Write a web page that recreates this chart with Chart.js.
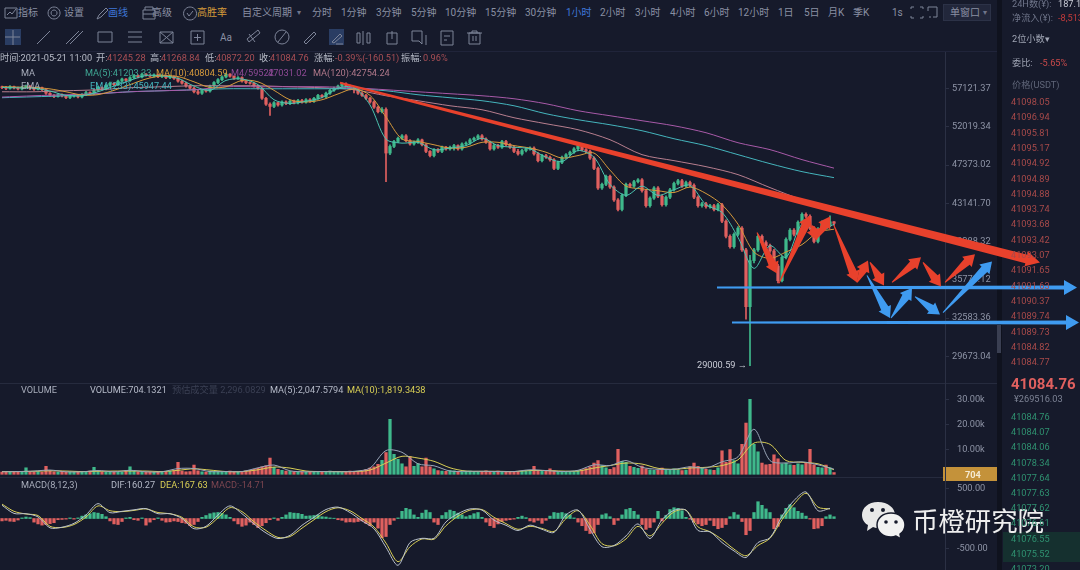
<!DOCTYPE html>
<html>
<head>
<meta charset="utf-8">
<script src="https://cdn.jsdelivr.net/npm/chart.js@4"></script>
<style>
html, body { margin: 0; width: 1080px; height: 570px; overflow: hidden; background: #161a2b; }
#page { position: absolute; left: 0; top: 0; width: 1080px; height: 570px; background: #161a2b; filter: blur(0.55px);
  font-family: Roboto, "Noto Sans CJK SC", sans-serif; }
.t { position: absolute; white-space: nowrap; line-height: 14px; font-size: 9.2px; color: #8a90a3; }
canvas { position: absolute; left: 0; }
.box { position: absolute; }
</style>
</head>
<body>
<div id="page">
  <div class="box" style="left:0;top:51px;width:997px;height:1px;background:#20243a"></div>
  <div class="box" style="left:0;top:383px;width:997px;height:1px;background:#262b3e"></div>
  <div class="box" style="left:0;top:477px;width:997px;height:1px;background:#262b3e"></div>
  <div class="box" style="left:997px;top:0;width:5px;height:570px;background:#0f121e"></div>
  <div class="box" style="left:997px;top:325px;width:4px;height:28px;background:#3a3f52"></div>
  <div class="box" style="left:1003px;top:532px;width:77px;height:30px;background:#15302f"></div>
  <div class="box" style="left:943px;top:467px;width:54px;height:14px;background:#c4923a"></div>
  <div class="box" style="left:5px;top:29px;width:16px;height:16px;background:#2a3d63"></div>
  <div class="box" style="left:329px;top:29px;width:15px;height:16px;background:#2a3d63"></div>
  <div class="box" style="left:943px;top:4px;width:48px;height:17px;background:#22273b;border:1px solid #2c3247;box-sizing:border-box"></div>
  <svg id="icons" class="box" style="left:0;top:0" width="1080" height="52" fill="none" stroke="#7d8498" stroke-width="1"></svg>
  <canvas id="priceChart" width="1080" height="331" style="top:52px"></canvas>
  <canvas id="volumeChart" width="1080" height="94" style="top:383px"></canvas>
  <canvas id="macdChart" width="1080" height="93" style="top:477px"></canvas>
  <svg class="box" style="left:860px;top:500px" width="48" height="40">
    <path d="M18 2C8 2 2 8 2 15c0 4 2 8 6 10l-1 6 6-4c2 1 4 1 6 1 10 0 16-6 16-13S28 2 18 2z" fill="#e8e8e8"/>
    <path d="M31 13c-8 0-14 5-14 12s6 12 14 12c2 0 3 0 5-1l5 3-1-5c3-2 5-5 5-9 0-7-6-12-14-12z" fill="#f2f2f2" stroke="#161a2b" stroke-width="1.5"/>
    <circle cx="12" cy="10" r="2" fill="#161a2b"/><circle cx="23" cy="10" r="2" fill="#161a2b"/>
    <circle cx="26" cy="22" r="1.8" fill="#161a2b"/><circle cx="36" cy="22" r="1.8" fill="#161a2b"/>
  </svg>
  <div class="t" style="left:912px;top:508px;font-size:26.4px;line-height:28px;color:#eeeeee">币橙研究院</div>
</div>
<script>
// toolbar and side panel texts
const periodTabs = [[312,'分时'],[341,'1分钟'],[376,'3分钟'],[411,'5分钟'],[445,'10分钟'],[485,'15分钟'],[525,'30分钟'],[600,'2小时'],[635,'3小时'],[670,'4小时'],[704,'6小时'],[738,'12小时'],[778,'1日'],[804,'5日'],[828,'月K'],[853,'季K'],[892,'1s']];
const askPrices = ['41098.05','41096.94','41095.81','41095.17','41094.92','41094.89','41094.88','41093.74','41093.68','41093.42','41093.07','41091.65','41091.63','41090.37','41089.74','41089.73','41084.82','41084.77'];
const bidPrices = ['41084.76','41084.07','41084.06','41078.34','41077.64','41077.63','41077.62','41076.61','41076.55','41075.52','41073.20'];

// candles, one per hour step
const candleOpen = [57400,57300,57180,57420,57250,57100,57350,57500,57200,57050,57280,57000,56500,56200,56050,56300,56150,55900,56100,56250,56000,56300,56600,56450,56900,57300,57100,57600,57900,57700,58200,58500,58300,58700,59000,58800,59200,59050,58900,59100,58850,59000,58700,58900,58600,58200,57900,57500,57200,56700,56500,56900,56800,57500,58000,58400,58800,59200,58900,58600,58700,58200,58000,57900,57500,57200,55800,55000,54700,55200,54900,55300,55100,55400,55200,55500,55300,55600,55400,55800,56200,56000,56500,56900,57200,57500,57800,57500,57100,57000,56500,56200,55800,55300,54600,54000,54300,48800,49600,50200,50600,50900,50300,49900,50100,50400,49800,49000,48500,49200,49000,49500,49300,49500,49700,49300,49900,50000,50400,50600,50900,50500,50100,49300,49700,49500,50200,49800,49500,49000,48700,49100,49300,49400,48700,47900,48500,48300,48000,47000,47700,48300,48600,48900,49300,49700,49200,49000,48200,47000,44800,45200,46100,44900,43500,42500,44000,45200,45000,45500,45700,44500,42900,43700,44800,43900,43000,43800,44600,45300,45600,45000,45400,45100,43800,42900,43100,42800,42900,42500,43000,41300,39800,38800,40000,40600,38500,33500,37500,38500,39800,39200,38900,38400,37000,35700,37800,39500,40400,40000,41200,42000,41800,40600,39300,40500,41200,40900,41245.28];
const candleClose = [57300,57180,57420,57250,57100,57350,57500,57200,57050,57280,57000,56500,56200,56050,56300,56150,55900,56100,56250,56000,56300,56600,56450,56900,57300,57100,57600,57900,57700,58200,58500,58300,58700,59000,58800,59200,59050,58900,59100,58850,59000,58700,58900,58600,58200,57900,57500,57200,56700,56500,56900,56800,57500,58000,58400,58800,59200,58900,58600,58700,58200,58000,57900,57500,57200,55800,55000,54700,55200,54900,55300,55100,55400,55200,55500,55300,55600,55400,55800,56200,56000,56500,56900,57200,57500,57800,57500,57100,57000,56500,56200,55800,55300,54600,54000,54300,48800,49600,50200,50600,50900,50300,49900,50100,50400,49800,49000,48500,49200,49000,49500,49300,49500,49700,49300,49900,50000,50400,50600,50900,50500,50100,49300,49700,49500,50200,49800,49500,49000,48700,49100,49300,49400,48700,47900,48500,48300,48000,47000,47700,48300,48600,48900,49300,49700,49200,49000,48200,47000,44800,45200,46100,44900,43500,42500,44000,45200,45000,45500,45700,44500,42900,43700,44800,43900,43000,43800,44600,45300,45600,45000,45400,45100,43800,42900,43100,42800,42900,42500,43000,41300,39800,38800,40000,40600,38500,33500,37500,38500,39800,39200,38900,38400,37000,35700,37800,39500,40400,40000,41200,42000,41800,40600,39300,40500,41200,40900,41245.28,41084.76];
const candleHigh = [57500,57450,57550,57500,57350,57450,57650,57550,57300,57400,
57350,57100,56600,56300,56450,56400,56200,56250,56400,56350,
56450,56750,56700,57050,57450,57400,57750,58050,57950,58350,
58650,58550,58850,59150,59100,59350,59300,59150,59250,59200,
59150,59100,59050,58950,58700,58350,58050,57650,57350,56900,
57050,57000,57650,58150,58550,58950,59350,59300,58950,58850,
58800,58300,58100,58000,57600,57300,55950,55200,55350,55300,
55450,55450,55550,55550,55650,55650,55750,55750,55950,56350,
56300,56650,57050,57350,57650,57950,57950,57650,57250,57100,
56650,56350,55950,55450,54750,54550,54500,49800,50350,50750,
51050,51050,50450,50250,50550,50500,49950,49100,49350,49350,
49650,49600,49650,49850,49800,50050,50150,50550,50750,51050,
51050,50650,50250,49850,49850,50350,50350,49950,49650,49250,
49250,49450,49550,49550,48850,48650,48650,48450,48150,47850,
48450,48750,49050,49450,49850,49850,49350,49150,48350,47150,
45350,46250,46250,45050,43650,44150,45350,45350,45650,45850,
45850,44650,43850,44950,44950,44050,43950,44750,45450,45750,
45750,45550,45550,45250,43950,43250,43250,43050,43050,43150,
43150,41450,39950,40150,40750,40750,38650,38000,38650,39950,
39950,39350,39050,38550,37150,37950,39650,40550,40550,41350,
42150,42150,41950,40750,40650,41350,41350,41850,41268.84];
const candleLow = [57150,57000,57050,57100,56950,56950,57200,57000,56900,56950,
56850,56350,56050,55900,55950,56000,55750,55750,55950,55850,
55850,56150,56300,56300,56750,56950,56950,57450,57550,57550,
58050,58150,58150,58550,58650,58650,58900,58750,58750,58700,
58700,58550,58550,58450,58050,57750,57350,57050,56550,56350,
56350,56650,56650,57350,57850,58250,58650,58750,58450,58450,
58050,57850,57750,57350,57050,55650,54850,53500,54550,54750,
54750,54950,54950,55050,55050,55150,55150,55250,55250,55650,
55850,55850,56350,56750,57050,57350,57350,56950,56550,56350,
56050,55650,55150,54450,53850,53850,45500,48600,49450,50050,
50450,50150,49750,49750,49950,49650,48850,48350,48350,48850,
48850,49150,49150,49150,49150,49150,49750,49850,50250,50450,
50350,49950,49150,49150,49350,49350,49650,49350,48850,48550,
48550,48950,49150,48550,47750,47750,48150,47850,46850,46850,
47550,48150,48450,48750,49050,49050,48850,48050,46850,44650,
44650,45050,44750,43350,42350,42350,43850,44850,44850,45350,
44350,42750,42750,43550,43750,42850,42850,43650,44450,45150,
44850,44850,44950,43650,42750,42750,42650,42650,42350,42350,
41150,39650,38650,38650,39850,38350,32500,29000.59,37300,38350,
39050,38750,38250,36850,35500,35600,37650,39350,39850,39850,
41050,41650,40450,39150,39150,40350,40750,40750,40872.20];

// moving averages, one reading every maStep candles
const maStep = 4;
const ma5Line = [57300,57250,57200,56800,56200,56150,56700,57500,58300,59000,58950,58600,57500,56900,58300,58500,57700,55600,55100,55400,55900,57200,57300,54900,50500,50000,50100,49200,49400,49700,50600,49700,49500,49300,48300,47800,49100,48300,45200,44000,45000,44000,44600,45100,43000,42200,39700,36800,38900,37800,41000,40200,41000];
const ma10Line = [57400,57350,57300,57100,56700,56250,56300,56900,57700,58500,58950,58850,58100,57300,57400,58300,58100,56900,55600,55300,55600,56400,57100,56200,53300,50500,50200,49800,49400,49500,50100,50100,49700,49400,48900,48200,48500,48800,46800,45000,44700,44500,44300,44900,44200,43000,41000,38300,37700,38300,39000,40200,40500];
// slow lines, one reading every slowStep candles
const slowStep = 8;
const ma55Line = [55970,56150,56290,56430,56700,56840,56980,57400,57400,57400,57400,57260,56980,56700,56430,56150,55740,55060,54130,53470,52820,52170,51290,50050,49210,48020,47031];
const ema233Line = [55880,56010,56150,56430,56700,56840,56980,57120,57120,57120,57120,57120,56840,56290,55880,55470,54790,53730,52950,52300,51540,50540,49690,48610,47550,46630,45947];
const ma120Line = [56700,56700,56840,56980,57260,57400,57540,57540,57540,57400,57260,56980,56150,55470,54790,54260,53210,52430,51670,50420,48610,47900,47200,46290,44840,43550,42754];
const priceTicks = [57121.37,52019.34,47373.02,43141.70,39288.32,35779.12,32583.36,29673.04];

// hand drawn annotations: [candle, price, candle, price]
const trendArrow = [84.5,57960,259.5,37330];
const redArrows = [[188.75,40170,193.75,36340],[194.25,35470,202,41880],[202.5,40870,203.75,39400],[203.75,39600,207,41780],[208,40870,213.75,35550],[213.75,35550,216.5,37520],[217,37340,220.5,35290],[222.5,35550,229.75,37800],[230.25,37340,234.75,35200],[235.75,35550,243.25,38080]];
const blueArrows = [[216.25,36170,222,32590],[222.25,32590,227.5,35060],[228.25,34340,234.5,32860],[235.25,33020,247.5,37430]];
const supportArrows = [[178.75,35120,268.75,35120],[182.5,32220,269.25,32220]];
const lowestPoint = [187,29000.59];

// volume
const volumeBars = [900,1100,800,1000,1200,900,2600,1000,800,1100,
900,3200,1400,1000,900,1200,800,1000,900,1100,
800,900,1300,2800,1100,1000,900,1200,1000,800,
900,1400,3000,1200,1000,1100,900,1000,800,1100,
900,1000,1200,1500,4800,1300,1000,1100,3700,1400,
1000,900,1300,1200,1100,1000,1200,1300,1000,900,
1100,1400,1600,2000,2400,3000,3400,6500,2800,2000,
1600,1300,1200,1100,1000,1000,900,1100,1000,1100,
1000,1200,1300,1100,900,1000,1100,1300,1000,1200,
1400,1900,2500,3000,4000,5600,8700,22000,8000,6000,
4200,3000,7000,3200,4300,3000,6500,3000,2200,1500,
1300,1200,1500,1400,1100,1000,1200,1300,1100,1000,
1200,1400,1100,1000,1300,1100,1000,1200,1000,1100,
1200,1400,1300,3200,1500,1200,1300,2200,1400,1100,
1000,900,1000,1100,1400,1800,2300,3000,4500,5500,
3500,2600,2000,2700,10000,5200,4800,3200,2800,2400,
3300,2200,1800,1600,1700,2500,2000,1800,2200,1900,
1500,1700,3000,4500,3200,2400,2000,1800,1600,2600,
9400,4800,9900,5500,4200,12000,20500,30000,12000,9000,
4500,3800,4000,7800,6200,4200,4500,3800,3600,4200,
3800,4500,10000,3800,2800,2600,3700,2600,704];
const volumeMa5 = [1000,1100,1300,1700,1000,1000,1500,1000,1600,1000,1000,2300,2300,1100,1100,1100,2600,3700,1400,1000,1100,1000,1200,2500,9500,8800,4200,3400,1300,1200,1200,1100,1100,1800,1500,1100,1600,3800,3500,5500,2800,2000,2000,3000,2500,5000,7000,18000,5500,4500,5000,3800,2047];
const volumeMa10 = [1100,1100,1200,1400,1300,1100,1200,1300,1300,1300,1100,1600,2200,1700,1100,1100,1800,2900,2500,1300,1100,1100,1100,1700,4500,7200,6500,5200,2600,1300,1200,1200,1100,1500,1500,1300,1300,2500,3500,4500,4100,2400,2000,2500,2800,3500,5800,12500,12000,5500,4800,4200,1819];
const volumeTicks = [10000,20000,30000];

// macd
const macdBars = [-40,-30,-45,-50,-25,10,25,15,-60,-90,
-110,-100,-85,-70,-20,-15,-10,10,-10,10,
40,60,80,100,90,70,30,-40,-90,-100,
-50,10,20,-20,-30,10,-110,-60,-20,10,
-30,-60,-55,-40,-50,-70,-80,-120,-100,-50,
20,50,80,95,100,85,60,20,-40,-90,
-130,-110,-60,-100,-150,-120,-70,-20,10,-30,
20,60,100,90,85,70,40,45,50,60,
30,25,10,5,-20,-30,-60,-55,-60,-50,
-40,-80,-120,-60,-160,-320,-300,-100,-30,10,
120,170,150,60,20,90,140,100,-60,-100,
50,100,140,120,90,60,30,50,80,100,
20,-60,-120,-150,-90,-50,-30,-20,-10,20,
40,15,-40,-60,-30,-80,-30,40,100,90,
100,80,60,10,-60,-120,-200,-250,-240,-100,
60,80,30,-100,-30,60,150,170,120,60,
-100,-180,-150,-60,120,-40,50,150,180,170,
130,20,-10,-60,-90,-120,-100,-30,-120,-170,
-150,-100,30,100,60,-50,-270,-200,100,280,
220,160,100,-170,-130,60,170,230,180,120,
90,40,-10,-170,-160,-120,30,60,30];
const macdStep = 3;
const difLine = [221,85,80,27,-156,-145,-80,60,248,98,120,145,166,80,80,0,-170,-130,60,210,80,-90,-240,-334,-280,-113,20,150,190,100,-40,-170,-480,-780,-400,-330,-330,-56,80,160,140,-27,-113,-200,-110,-180,-231,60,140,-180,-470,-450,-290,-90,-334,-20,137,137,-200,-222,-400,-540,-650,-400,-320,40,300,443,130,170];
const deaLine = [240,120,75,50,-130,-150,-100,25,210,130,115,135,160,100,80,20,-140,-145,10,180,115,-55,-200,-315,-300,-160,-20,115,180,130,0,-140,-410,-720,-470,-340,-345,-120,40,140,150,20,-85,-180,-130,-165,-215,0,130,-110,-420,-455,-340,-130,-290,-80,110,140,-140,-220,-350,-510,-620,-450,-330,-20,240,420,190,160];
const macdTicks = [500,-500];

const RED = '#e0605f';
const GREEN = '#3fb98b';
const AXIS = '#2b3044';
const TICK_TEXT = '#8e94a6';

Chart.defaults.font.family = 'Roboto, "Noto Sans CJK SC", sans-serif';
Chart.defaults.font.size = 9.2;
Chart.defaults.color = TICK_TEXT;

const candleColors = candleClose.map((c, i) => (c >= candleOpen[i] ? GREEN : RED));

function sampled(values, step) {
    return values.map((v, k) => ({ x: k * step, y: v }));
}

function lineSet(values, step, color, width) {
    return { type: 'line', data: sampled(values, step), borderColor: color, borderWidth: width || 1, pointRadius: 0, tension: 0.3, order: 1 };
}

function barSet(values, colors, thickness, order) {
    return {
        type: 'bar', data: values.map((v, i) => ({ x: i, y: v })), backgroundColor: colors,
        barThickness: thickness, grouped: false, order: order
    };
}

// y axis sits at x=945, the rest of the canvas stays free for the drawn arrows
function chartOptions(yAxis) {
    return {
        responsive: false,
        animation: false,
        layout: { padding: { left: 0, right: 79, top: 0, bottom: 0 }, autoPadding: false },
        plugins: { legend: { display: false }, tooltip: { enabled: false } },
        scales: {
            x: { type: 'linear', display: false, offset: false, min: -0.5, max: 235.75 },
            y: Object.assign({
                position: 'right',
                bounds: 'data',
                afterFit: scale => { scale.width = 56; scale.paddingTop = 0; scale.paddingBottom = 0; },
                grid: { drawOnChartArea: false, tickLength: 4, tickColor: AXIS },
                border: { color: AXIS }
            }, yAxis)
        }
    };
}

function drawArrow(ctx, x1, y1, x2, y2, tail, neck, head, headLen, color) {
    const len = Math.hypot(x2 - x1, y2 - y1);
    const ux = (x2 - x1) / len, uy = (y2 - y1) / len;
    const px = -uy, py = ux;
    const nx = x2 - ux * headLen, ny = y2 - uy * headLen;
    ctx.fillStyle = color;
    ctx.beginPath();
    ctx.moveTo(x1 + px * tail / 2, y1 + py * tail / 2);
    ctx.lineTo(nx + px * neck / 2, ny + py * neck / 2);
    ctx.lineTo(nx + px * head / 2, ny + py * head / 2);
    ctx.lineTo(x2, y2);
    ctx.lineTo(nx - px * head / 2, ny - py * head / 2);
    ctx.lineTo(nx - px * neck / 2, ny - py * neck / 2);
    ctx.lineTo(x1 - px * tail / 2, y1 - py * tail / 2);
    ctx.closePath();
    ctx.fill();
}

const annotations = {
    id: 'annotations',
    afterDraw(chart) {
        const { ctx, scales: { x, y } } = chart;
        const arrow = (a, tail, neck, head, headLen, color) => drawArrow(ctx,
            x.getPixelForValue(a[0]), y.getPixelForValue(a[1]),
            x.getPixelForValue(a[2]), y.getPixelForValue(a[3]), tail, neck, head, headLen, color);
        ctx.save();
        ctx.fillStyle = '#c9ccd6';
        ctx.textAlign = 'right';
        ctx.textBaseline = 'middle';
        ctx.font = '9.2px Roboto';
        ctx.fillText(lowestPoint[1].toFixed(2) + ' →', x.getPixelForValue(lowestPoint[0]) - 3, y.getPixelForValue(lowestPoint[1]));
        supportArrows.forEach(a => arrow(a, 2, 4, 15, 13, '#3f9bf0'));
        blueArrows.forEach(a => arrow(a, 1, 8, 14, 11, '#3f9bf0'));
        arrow(trendArrow, 2, 9, 15, 14, '#e8412c');
        redArrows.forEach(a => arrow(a, 1, 8, 14, 11, '#e8412c'));
        ctx.restore();
    }
};

new Chart(document.getElementById('priceChart'), {
    data: {
        datasets: [
            lineSet(ma5Line, maStep, '#4cc4b0'),
            lineSet(ma10Line, maStep, '#d69a3c'),
            lineSet(ma55Line, slowStep, '#a85aa8'),
            lineSet(ema233Line, slowStep, '#45b5bd'),
            lineSet(ma120Line, slowStep, '#b87f8f'),
            barSet(candleOpen.map((o, i) => [o, candleClose[i]]), candleColors, 2.6, 2),
            barSet(candleLow.map((l, i) => [l, candleHigh[i]]), candleColors, 1, 3)
        ]
    },
    options: chartOptions({
        type: 'logarithmic',
        min: 27790,
        max: 62500,
        afterBuildTicks: scale => { scale.ticks = priceTicks.map(v => ({ value: v })); },
        ticks: { autoSkip: false, padding: 3, callback: v => v.toFixed(2) }
    }),
    plugins: [annotations]
});

new Chart(document.getElementById('volumeChart'), {
    data: {
        datasets: [
            lineSet(volumeMa5, maStep, '#9aa6b8'),
            lineSet(volumeMa10, maStep, '#d9cf55'),
            barSet(volumeBars, candleColors, 2.6, 2)
        ]
    },
    options: chartOptions({
        type: 'linear',
        min: -1080,
        max: 36520,
        afterBuildTicks: scale => { scale.ticks = volumeTicks.map(v => ({ value: v })); },
        ticks: { autoSkip: false, padding: 8, callback: v => (v / 1000).toFixed(2) + 'k' }
    })
});

new Chart(document.getElementById('macdChart'), {
    data: {
        datasets: [
            lineSet(difLine, macdStep, '#b9c1cc'),
            lineSet(deaLine, macdStep, '#d9cf55'),
            barSet(macdBars, macdBars.map(v => (v >= 0 ? GREEN : RED)), 2.6, 2)
        ]
    },
    options: chartOptions({
        type: 'linear',
        min: -858,
        max: 692,
        afterBuildTicks: scale => { scale.ticks = macdTicks.map(v => ({ value: v })); },
        ticks: { autoSkip: false, padding: 8, callback: v => v.toFixed(2) }
    })
});

// page texts
const page = document.getElementById('page');
function label(x, y, text, color, size, weight) {
    const el = document.createElement('div');
    el.className = 't';
    el.style.left = x + 'px';
    el.style.top = (y - 7) + 'px';
    el.textContent = text;
    if (color) el.style.color = color;
    if (size) el.style.fontSize = size + 'px';
    if (weight) el.style.fontWeight = weight;
    page.appendChild(el);
}

label(18, 13, '指标', '#8a90a3', 10);
label(64, 13, '设置', '#8a90a3', 10);
label(108, 13, '画线', '#3f78d8', 10);
label(152, 13, '高级', '#8a90a3', 10);
label(197, 13, '高胜率', '#d49a3a', 10);
label(242, 13, '自定义周期', '#8a90a3', 10);
label(297, 13, '▾', '#6f758a', 8);
periodTabs.forEach(t => label(t[0], 13, t[1], '#8a90a3', 10));
label(566, 13, '1小时', '#3f78d8', 10);
label(950, 13, '单窗口', '#8a90a3', 10);
label(983, 13, '▾', '#6f758a', 8);
label(220, 38, 'Aa', '#8a90a3', 10);

const DIM_RED = '#a94f55';
label(0, 58, '时间:2021-05-21 11:00', '#b8bcc8');
label(96, 58, '开:', '#b8bcc8'); label(107, 58, '41245.28', DIM_RED);
label(150, 58, '高:', '#b8bcc8'); label(161, 58, '41268.84', DIM_RED);
label(205, 58, '低:', '#b8bcc8'); label(216, 58, '40872.20', DIM_RED);
label(259, 58, '收:', '#b8bcc8'); label(270, 58, '41084.76', DIM_RED);
label(314, 58, '涨幅:', '#b8bcc8'); label(335, 58, '-0.39%(-160.51)', DIM_RED);
label(401, 58, '振幅:', '#b8bcc8'); label(423, 58, '0.96%', DIM_RED);

label(21, 73, 'MA', '#a8adbb');
label(85, 73, 'MA(5):41203.33', '#3fa593');
label(156, 73, 'MA(10):40804.59', '#d69a3c');
label(231, 73, 'M4/59522', '#8f4a96');
label(268, 73, '47031.02', '#8f4a96');
label(313, 73, 'MA(120):42754.24', '#b0788a');
label(21, 86, 'EMA', '#a8adbb');
label(90, 86, 'EMA(233):45947.44', '#45b5bd');

label(21, 390, 'VOLUME', '#a8adbb');
label(90, 390, 'VOLUME:704.1321', '#b5bac8');
label(172, 390, '预估成交量 2,296.0829', '#3b4054');
label(270, 390, 'MA(5):2,047.5794', '#b5bac8');
label(347, 390, 'MA(10):1,819.3438', '#d9cf55');
label(21, 485, 'MACD(8,12,3)', '#a8adbb');
label(111, 485, 'DIF:160.27', '#b5bac8');
label(160, 485, 'DEA:167.63', '#d9cf55');
label(211, 485, 'MACD:-14.71', '#7d4650');
label(965, 475, '704', '#f5ead2', 9.2, 700);

label(1012, 4, '24H数(¥):', '#6f758a');
label(1058, 4, '187.1', '#c9ccd6');
label(1012, 18, '净流入(¥):', '#6f758a');
label(1058, 18, '-8,513', '#c23b3b');
label(1012, 39, '2位小数▾', '#a0a5b4');
label(1012, 63, '委比:', '#a0a5b4');
label(1040, 63, '-5.65%', '#c94a4a');
label(1012, 85, '价格(USDT)', '#5f6578');
askPrices.forEach((p, i) => label(1011, 102 + i * 15.3, p, '#a84a4a'));
label(1011, 384, '41084.76', '#e0605f', 15, 700);
label(1014, 399, '¥269516.03', '#7d8395');
bidPrices.forEach((p, i) => label(1011, 417 + i * 15.2, p, '#2f9170'));

// toolbar icons
const icons = [
    'M5 8h12v10H5z M7 15l3-3 2 2 4-5',
    'M54 7a6 6 0 1 0 .1 0z M54 10a3 3 0 1 0 .1 0z',
    'M97 19l2-4 7-7 2 2-7 7z',
    'M143 10h12v9h-12z M145 10v-3h8v3 M143 14h12',
    'M190 7a6.5 6.5 0 1 0 .1 0z M187 13l2 3 4-5',
    'M5 37h15 M13 30v15',
    'M37 44l13-13',
    'M66 44l13-13 M70 44l13-13',
    'M98 32h14v10h-14z',
    'M128 32h14 M128 37h14 M128 42h14',
    'M160 32h13v11h-13z M160 32l13 11 M173 32l-13 11',
    'M191 31h13v13h-13z M197.5 34v7 M194 37.5h7',
    'M249 42l11-9-2-3-11 9z M249 34l6 8',
    'M275 37a7 7 0 1 0 14 0a7 7 0 1 0-14 0 M278 42l8-10',
    'M304 42l10-10 2 2-10 10z',
    'M332 42l8-8 2 2-8 7z M336 44h7',
    'M357 33v10h3v-10z M363 31v14 M367 33v10h3v-10z',
    'M387 33h10v11h-10z M392 31v8',
    'M412 31h10v13l-3-3h-7z M426 35v10',
    'M441 31h12v14h-12z M444 36h6 M444 40h3',
    'M469 33h11v11h-11z M467 33h15 M472 33v-2h5v2 M473 36v5 M476 36v5',
    'M911 9v-2h3 M920 7h3v2 M923 16v2h-3 M914 18h-3v-2',
    'M928 7h9v10h-4 M928 7v4 M929 17h2'
];
document.getElementById('icons').innerHTML = icons.map(d => '<path d="' + d + '"/>').join('');
</script>
</body>
</html>
